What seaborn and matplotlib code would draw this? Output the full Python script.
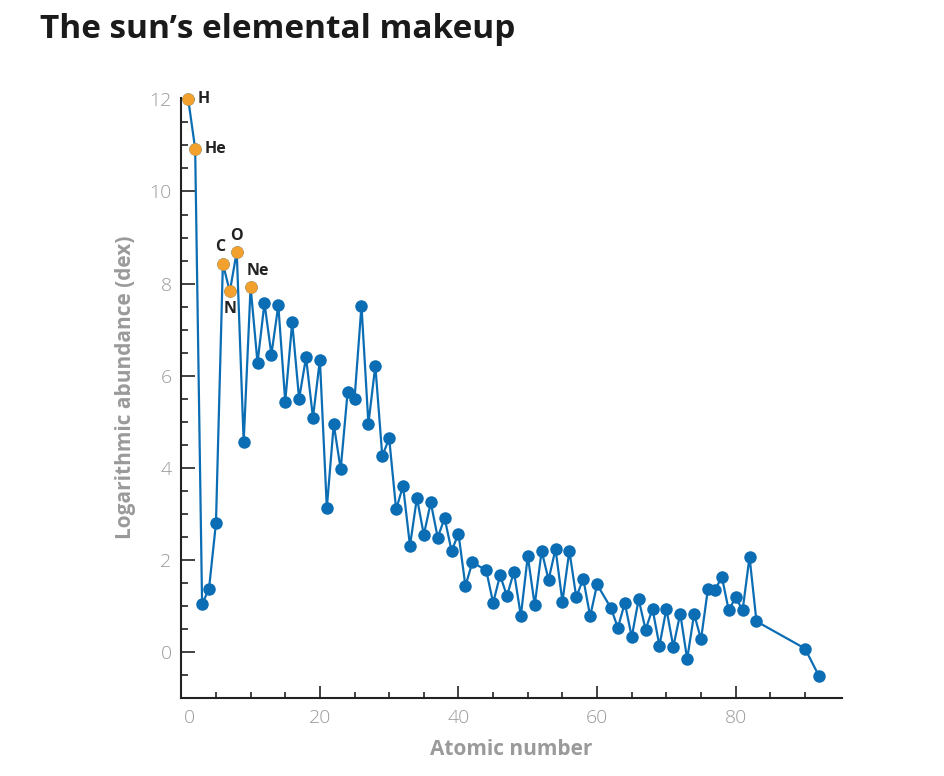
import numpy as np
import pandas as pd
import matplotlib
matplotlib.use("Agg")
import matplotlib.pyplot as plt
import seaborn as sns
from matplotlib.ticker import MultipleLocator, FixedLocator
from matplotlib.transforms import ScaledTranslation

# ---- data ----
atomic_number = [1, 2, 3, 4, 5, 6, 7, 8, 9, 10,
                 11, 12, 13, 14, 15, 16, 17, 18, 19, 20,
                 21, 22, 23, 24, 25, 26, 27, 28, 29, 30,
                 31, 32, 33, 34, 35, 36, 37, 38, 39, 40,
                 41, 42, 44, 45, 46, 47, 48, 49, 50,
                 51, 52, 53, 54, 55, 56, 57, 58, 59, 60,
                 62, 63, 64, 65, 66, 67, 68, 69, 70,
                 71, 72, 73, 74, 75, 76, 77, 78, 79, 80,
                 81, 82, 83, 90, 92]
abundance = [12.00, 10.93, 1.04, 1.38, 2.80, 8.43, 7.83, 8.69, 4.56, 7.93,
             6.28, 7.58, 6.46, 7.53, 5.44, 7.16, 5.50, 6.40, 5.09, 6.35,
             3.13, 4.95, 3.97, 5.65, 5.50, 7.52, 4.96, 6.22, 4.26, 4.64,
             3.10, 3.61, 2.31, 3.35, 2.55, 3.25, 2.49, 2.91, 2.20, 2.57,
             1.44, 1.95, 1.78, 1.07, 1.67, 1.22, 1.75, 0.79, 2.09,
             1.02, 2.20, 1.57, 2.24, 1.10, 2.20, 1.19, 1.60, 0.78, 1.47,
             0.96, 0.53, 1.07, 0.33, 1.15, 0.49, 0.94, 0.14, 0.94,
             0.12, 0.84, -0.15, 0.83, 0.28, 1.38, 1.34, 1.64, 0.91, 1.19,
             0.91, 2.07, 0.67, 0.08, -0.51]

highlight_symbols = ["H", "He", "C", "N", "O", "Ne"]
highlight_z = [1, 2, 6, 7, 8, 10]

x_major_ticks = [0, 20, 40, 60, 80]
y_major_ticks = [0, 2, 4, 6, 8, 10, 12]

title = "The sun\u2019s elemental makeup"
xlabel = "Atomic number"
ylabel = "Logarithmic abundance (dex)"

BLUE = "#0b6db4"
ORANGE = "#f2a12e"
GRAY = "#9a9a9a"
DARK = "#222222"

df = pd.DataFrame({"z": atomic_number, "a": abundance})
hl = df[df["z"].isin(highlight_z)].copy()

sns.set_theme(style="white")
plt.rcParams["font.family"] = ["Open Sans", "DejaVu Sans"]

fig = plt.figure(figsize=(9.45, 7.76), dpi=100)
ax = fig.add_axes([181.3 / 945, 1 - 698.3 / 776, (841.7 - 181.3) / 945, (698.3 - 97.5) / 776])

sns.lineplot(data=df, x="z", y="a", ax=ax, color=BLUE, linewidth=1.6,
             marker="o", markersize=9, markeredgewidth=0, sort=True,
             clip_on=False, zorder=3)
sns.scatterplot(data=hl, x="z", y="a", ax=ax, color=ORANGE, s=80,
                linewidth=0, zorder=4, clip_on=False)

# annotations
offsets = {"H": (7, 0, "left", "center"),
           "He": (7, 0, "left", "center"),
           "C": (-2, 6, "center", "bottom"),
           "O": (0, 6, "center", "bottom"),
           "N": (0, -7, "center", "top"),
           "Ne": (5, 6, "center", "bottom")}
for sym, z in zip(highlight_symbols, highlight_z):
    val = df.loc[df["z"] == z, "a"].iloc[0]
    dx, dy, ha, va = offsets[sym]
    ax.annotate(sym, (z, val), xytext=(dx, dy), textcoords="offset points",
                ha=ha, va=va, fontsize=11.5, fontweight="bold", color=DARK)

ax.set_xlim(0, 95.3)
ax.set_ylim(-1, 12.04)

ax.xaxis.set_major_locator(FixedLocator(x_major_ticks))
ax.xaxis.set_minor_locator(FixedLocator([5, 10, 15, 25, 30, 35, 45, 50, 55, 65, 70, 75, 85, 90]))
ax.yaxis.set_major_locator(FixedLocator(y_major_ticks))
ax.yaxis.set_minor_locator(MultipleLocator(0.5))

for side in ["top", "right"]:
    ax.spines[side].set_visible(False)
for side in ["left", "bottom"]:
    ax.spines[side].set_color(DARK)
    ax.spines[side].set_linewidth(1.5)

ax.tick_params(axis="x", which="major", direction="in", length=8.5, width=1.2,
               color=DARK, labelsize=14, labelcolor=GRAY, pad=8, bottom=True)
ax.tick_params(axis="x", which="minor", direction="in", length=4.5, width=1.2,
               color=DARK, bottom=True)
ax.tick_params(axis="y", which="major", direction="in", length=10, width=1.2,
               color=DARK, labelsize=14, labelcolor=GRAY, pad=7, left=True)
ax.tick_params(axis="y", which="minor", direction="in", length=5, width=1.2,
               color=DARK, left=True)

ax.set_xlabel(xlabel, fontsize=15, fontweight="bold", color=GRAY, labelpad=8)
ax.set_ylabel(ylabel, fontsize=15, fontweight="bold", color=GRAY)
ax.yaxis.set_label_coords(-0.069, 0.517)
ax.grid(False)

fig.canvas.draw()
for lbl in ax.get_xticklabels() + ax.get_yticklabels():
    lbl.set_fontweight("light")
# the "0" label sits a little right of the spine in the reference
lbl0 = ax.get_xticklabels()[0]
lbl0.set_transform(lbl0.get_transform() + ScaledTranslation(8 / 100, 0, fig.dpi_scale_trans))

fig.text(40 / 945, 1 - 30 / 776, title, fontsize=24, fontweight="bold",
         color="#1a1a1a", ha="left", va="center")

fig.savefig("out.png", dpi=100)
